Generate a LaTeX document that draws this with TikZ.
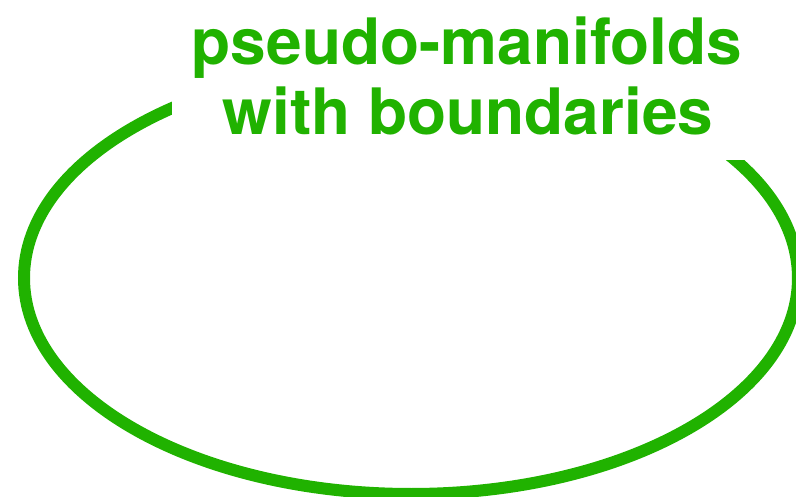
\documentclass[tikz,border=0pt]{standalone}
\usepackage{fontspec}
\newfontfamily\hvfont{TeX Gyre Heros}
\definecolor{pmgreen}{RGB}{32,178,0}
\begin{document}
\begin{tikzpicture}[x=1pt,y=-1pt,
  ring/.style={draw=pmgreen,line width=12pt},
  title/.style={text=pmgreen,font=\hvfont\bfseries\fontsize{64}{70}\selectfont,anchor=base,inner sep=0pt}]
\useasboundingbox (0,0) rectangle (796,497);
\draw[ring] (411,278) ellipse [x radius=387, y radius=216];
\fill[white] (172,-10) rectangle (762,160);
\node[title] (l1) at (467,65) {pseudo-manifolds};
\node[title] (l2) at (468,135) {with boundaries};
\end{tikzpicture}
\end{document}
